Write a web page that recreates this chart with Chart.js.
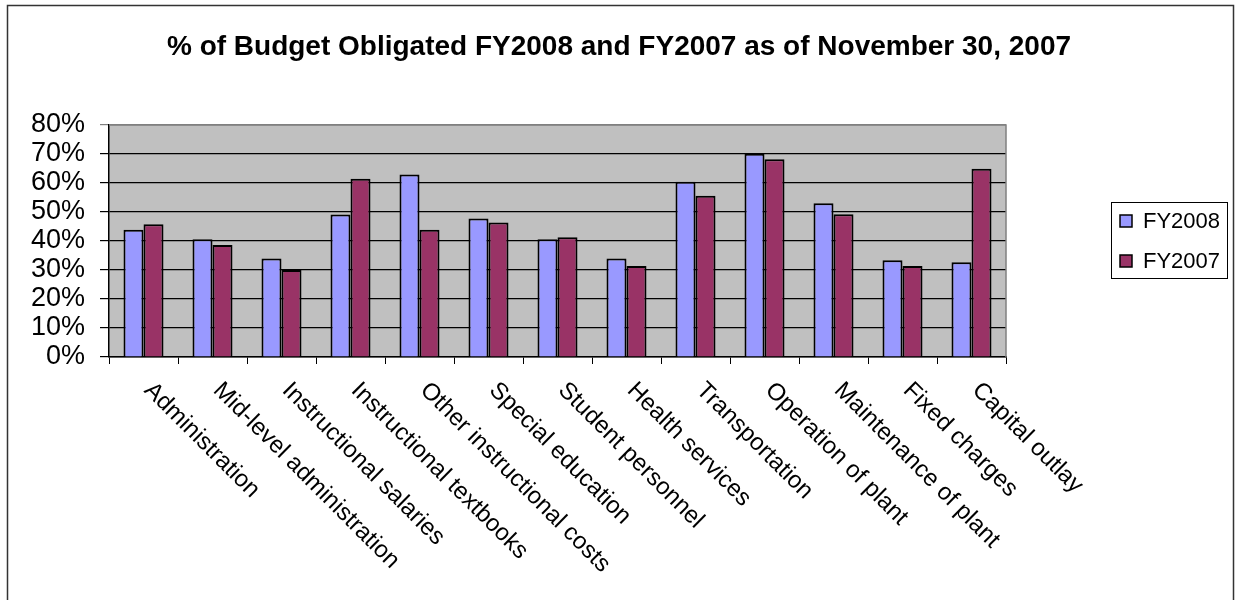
<!DOCTYPE html>
<html>
<head>
<meta charset="utf-8">
<script src="https://cdn.jsdelivr.net/npm/chart.js@4/dist/chart.umd.min.js"></script>
<style>
  html, body { margin: 0; padding: 0; background: #fff; }
  #wrap { width: 1235px; height: 600px; position: relative; }
</style>
</head>
<body>
<div id="wrap"><canvas id="budgetChart" width="1235" height="600"></canvas></div>
<script>
"use strict";

// categories + series
const categories = [
  "Administration", "Mid-level administration", "Instructional salaries",
  "Instructional textbooks", "Other instructional costs", "Special education",
  "Student personnel", "Health services", "Transportation", "Operation of plant",
  "Maintenance of plant", "Fixed charges", "Capital outlay"
];
const fy2008 = [43.9, 40.6, 34.0, 49.1, 62.9, 47.8, 40.6, 34.0, 60.4, 70.1, 53.0, 33.4, 32.7];
const fy2007 = [45.8, 38.6, 30.0, 61.5, 43.9, 46.4, 41.3, 31.4, 55.6, 68.2, 49.2, 31.4, 64.9];
const yTicks = [0, 10, 20, 30, 40, 50, 60, 70, 80];
const titleText = "% of Budget Obligated FY2008 and FY2007 as of November 30, 2007";

const FONT = "Arial, 'Liberation Sans', sans-serif";

// background, frame, plot fill, title, slanted labels, legend
const excelLook = {
  id: "excelLook",
  beforeDraw(chart) {
    const { ctx, chartArea: a } = chart;
    ctx.save();
    ctx.fillStyle = "#ffffff";
    ctx.fillRect(0, 0, chart.width, chart.height);
    ctx.fillStyle = "#c0c0c0";
    ctx.fillRect(a.left, a.top, a.right - a.left, a.bottom - a.top);
    ctx.restore();
  },
  afterDraw(chart) {
    const { ctx, chartArea: a } = chart;
    const xs = chart.scales.x;
    ctx.save();

    // outer frame
    ctx.strokeStyle = "#333333";
    ctx.lineWidth = 1.5;
    ctx.strokeRect(7.5, 5.5, 1226, 620);

    // plot border (top / right grey)
    ctx.strokeStyle = "#808080";
    ctx.lineWidth = 1.5;
    ctx.beginPath();
    ctx.moveTo(a.left, a.top);
    ctx.lineTo(a.right, a.top);
    ctx.lineTo(a.right, a.bottom);
    ctx.stroke();

    // title
    ctx.fillStyle = "#000";
    ctx.font = "bold 28px " + FONT;
    ctx.textAlign = "center";
    ctx.textBaseline = "alphabetic";
    ctx.fillText(titleText, 619, 55);

    // slanted category labels
    ctx.font = "24px " + FONT;
    ctx.textAlign = "left";
    ctx.textBaseline = "top";
    categories.forEach((c, i) => {
      const x = xs.getPixelForValue(i);
      ctx.save();
      ctx.translate(x + 13, 378);
      ctx.rotate(Math.PI / 4);
      ctx.fillText(c, 0, 0);
      ctx.restore();
    });

    // legend
    ctx.fillStyle = "#fff";
    ctx.fillRect(1111, 202, 116, 76);
    ctx.strokeStyle = "#000";
    ctx.lineWidth = 1;
    ctx.strokeRect(1111.5, 202.5, 116, 76);
    ctx.font = "22px " + FONT;
    ctx.textBaseline = "middle";
    chart.data.datasets.forEach((ds, i) => {
      const cy = 221 + i * 40;
      ctx.fillStyle = ds.backgroundColor;
      ctx.fillRect(1120, cy - 6, 12, 12);
      ctx.strokeStyle = "#000";
      ctx.lineWidth = 1.5;
      ctx.strokeRect(1120, cy - 6, 12, 12);
      ctx.fillStyle = "#000";
      ctx.fillText(ds.label, 1143, cy + 1);
    });
    ctx.restore();
  }
};

const data = {
  labels: categories,
  datasets: [
    {
      label: "FY2008",
      data: fy2008,
      backgroundColor: "#9999ff",
      borderColor: "#000000",
      borderWidth: 2,
    },
    {
      label: "FY2007",
      data: fy2007,
      backgroundColor: "#993366",
      borderColor: "#000000",
      borderWidth: 2,
    },
  ],
};

const config = {
  type: "bar",
  data: data,
  options: {
    responsive: false,
    animation: false,
    devicePixelRatio: 1,
    layout: {
      padding: { top: 125, right: 229, bottom: 0, left: 0 },
    },
    datasets: {
      bar: {
        categoryPercentage: 0.58,
        barPercentage: 1.0,
      },
    },
    plugins: {
      legend: { display: false },
      title: { display: false },
      tooltip: { enabled: false },
    },
    scales: {
      x: {
        offset: true,
        grid: {
          offset: true,
          drawOnChartArea: false,
          color: "#000",
          tickLength: 7,
          lineWidth: 1,
        },
        border: { color: "#000", width: 1.5 },
        ticks: { display: false },
        afterFit(scale) { scale.height = 243; },
      },
      y: {
        min: 0,
        max: 80,
        afterBuildTicks(scale) {
          scale.ticks = yTicks.map(v => ({ value: v }));
        },
        grid: {
          color: (c) => (c.tick && c.tick.value === 80 ? "#808080" : "#000"),
          lineWidth: 1.2,
          tickLength: 9,
        },
        border: { color: "#000", width: 1.5 },
        ticks: {
          color: "#000",
          padding: 15,
          autoSkip: false,
          font: { family: FONT, size: 27 },
          callback: (v) => v + "%",
        },
        afterFit(scale) { scale.width = 109; },
      },
    },
  },
  plugins: [excelLook],
};

const myChart = new Chart(document.getElementById("budgetChart"), config);
</script>
</body>
</html>
